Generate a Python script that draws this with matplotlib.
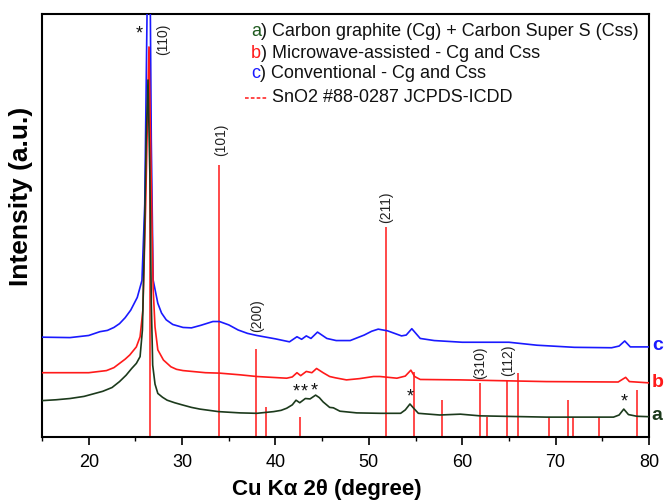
import matplotlib
matplotlib.use("Agg")
import matplotlib.pyplot as plt
from matplotlib.ticker import MultipleLocator
from matplotlib.lines import Line2D

plt.rcParams['font.family'] = ['Liberation Sans', 'DejaVu Sans']

# ---- data (arbitrary intensity units 0..100) ----
a_x = [15, 16.5, 18, 19.5, 20.5, 21.5, 22.5, 23.3, 24.0, 24.6, 25.1, 25.5, 25.75, 25.95, 26.15,
       26.35, 26.55, 26.7, 26.85, 27.1, 27.4, 27.9, 28.4, 29.2, 30.0, 31.0, 31.9, 33.9, 36.2,
       38.0, 39.8, 40.6, 41.2, 41.8, 42.2, 42.6, 43.2, 43.7, 44.3, 44.7, 45.1, 45.8, 46.2, 46.9,
       48.7, 51.2, 53.4, 53.9, 54.4, 54.8, 55.3, 57.6, 59.8, 61.9, 69.0, 76.2, 76.8, 77.3,
       77.8, 78.7, 80]
a_y = [8.6, 8.8, 9.1, 9.6, 10.2, 10.8, 11.7, 13.1, 14.6, 16.2, 17.4, 19.0, 25.3, 45, 70,
       84.4, 62, 32, 17, 12.5, 10.3, 9.4, 8.7, 8.1, 7.6, 7.0, 6.6, 6.0, 5.7,
       5.6, 6.0, 6.3, 6.8, 7.6, 8.7, 8.1, 9.1, 9.0, 9.9, 9.3, 8.3, 7.0, 6.9, 6.1,
       5.7, 5.6, 5.6, 6.4, 7.8, 6.8, 5.6, 5.2, 5.4, 5.0, 4.7, 4.7, 5.2, 6.6,
       5.3, 4.9, 4.8]

b_x = [15, 20, 21.9, 22.7, 23.3, 23.9, 24.4, 25.1, 25.5, 25.8, 26.1, 26.45, 26.7, 26.9, 27.1,
       27.4, 28.0, 28.8, 29.4, 30.1, 32.5, 34.0, 36.2, 38.0, 41.2, 41.8, 42.3, 42.7, 43.3, 43.9,
       44.4, 45.1, 45.8, 46.4, 47.6, 49.0, 50.5, 51.2, 53.0, 53.9, 54.5, 54.9, 55.5, 59.8,
       69.0, 76.7, 77.5, 77.9, 80]
b_y = [15.2, 15.2, 15.7, 16.4, 17.4, 18.4, 19.4, 21.3, 23.7, 30, 55, 92.2, 60, 35, 26,
       20.6, 18.2, 16.6, 16.0, 15.7, 15.2, 15.1, 14.7, 14.3, 13.9, 14.2, 15.2, 14.5, 15.5, 15.2,
       16.2, 15.2, 14.3, 14.0, 13.5, 13.8, 14.3, 14.3, 13.9, 14.4, 15.8, 14.3, 13.6, 13.5,
       13.1, 13.0, 14.1, 13.1, 12.8]

c_x = [15, 18, 20, 21.2, 22, 22.7, 23.3, 23.9, 24.5, 25.2, 25.7, 26.0, 26.3, 26.5, 26.7,
       26.9, 27.4, 27.8, 28.3, 29.0, 30.1, 31.0, 32.0, 33.3, 34.0, 35.0, 36.0, 37.0, 38.0, 40.0,
       41.5, 42.3, 42.8, 43.3, 43.8, 44.5, 45.5, 46.5, 48.0, 49.5, 50.3, 51.0, 52.0, 53.5, 54.0,
       54.6, 55.5, 57.0, 60.0, 65.0, 68.0, 72.0, 76.0, 76.8, 77.4, 78.0, 80]
c_y = [23.6, 23.5, 24.0, 24.9, 25.2, 25.9, 26.8, 28.2, 30.0, 33.0, 37.0, 55, 110, 130, 70,
       37.1, 31.6, 29.3, 27.7, 26.6, 25.9, 25.8, 26.4, 27.3, 27.3, 26.5, 25.3, 24.5, 24.0, 23.2,
       22.5, 23.7, 23.1, 23.9, 23.3, 24.8, 23.3, 22.8, 22.8, 24.1, 25.0, 25.5, 25.1, 23.9, 24.1,
       25.6, 23.3, 22.8, 22.4, 22.4, 21.7, 21.2, 21.1, 21.5, 22.7, 21.3, 21.3]

ref_pos = [26.6, 33.9, 37.9, 38.95, 42.6, 51.8, 54.8, 57.8, 61.9, 62.6, 64.75, 65.95,
           69.3, 71.35, 71.85, 74.6, 78.75]
ref_h = [92.2, 64.3, 20.7, 7.0, 4.7, 49.7, 15.4, 8.7, 12.7, 4.7, 13.5, 15.2,
         4.7, 8.7, 4.7, 4.7, 11.1]

hkl_labels = ['(110)', '(101)', '(200)', '(211)', '(310)', '(112)']
hkl_x = [28.0, 34.2, 38.0, 51.9, 61.9, 64.9]
hkl_y = [93.9, 70.2, 28.8, 54.4, 17.5, 18.2]

star_x = [25.4, 42.2, 43.1, 44.2, 54.4, 77.3]
star_y = [95.3, 10.7, 10.7, 10.9, 9.5, 8.3]

legend_letters = ['a', 'b', 'c']
legend_texts = [') Carbon graphite (Cg) + Carbon Super S (Css)',
                ') Microwave-assisted - Cg and Css',
                ') Conventional - Cg and Css']
ref_label = 'SnO2 #88-0287 JCPDS-ICDD'

col_a = '#1c3a1c'
col_a_txt = '#1f5a1f'
col_b = '#ff1a1a'
col_c = '#1a1aff'
col_ref = '#ff2a2a'

fig = plt.figure(figsize=(6.64, 5.00), dpi=100)
ax = fig.add_axes([0.0633, 0.126, 0.9141, 0.846])

ax.vlines(ref_pos, 0, ref_h, colors=col_ref, lw=1.2, zorder=2)
ax.plot(c_x, c_y, color=col_c, lw=1.2, zorder=3)
ax.plot(b_x, b_y, color=col_b, lw=1.2, zorder=3)
ax.plot(a_x, a_y, color=col_a, lw=1.2, zorder=3)

ax.set_xlim(15, 80)
ax.set_ylim(0, 100)
ax.xaxis.set_major_locator(MultipleLocator(10))
ax.xaxis.set_minor_locator(MultipleLocator(5))
ax.tick_params(axis='x', which='major', direction='out', length=6, width=1.2, labelsize=13, pad=6)
ax.tick_params(axis='x', which='minor', direction='out', length=3, width=1.0)
ax.set_yticks([])
for s in ax.spines.values():
    s.set_linewidth(1.5)

ax.set_xlabel('Cu Kα 2θ (degree)', fontsize=16, fontweight='bold')
ax.xaxis.set_label_coords(0.47, -0.123)
ax.xaxis.label.set_va('center')
ax.set_ylabel('Intensity (a.u.)', fontsize=19, fontweight='bold')
ax.yaxis.set_label_coords(-0.034, 0.57)
ax.yaxis.label.set_va('center')

for lab, x, y in zip(hkl_labels, hkl_x, hkl_y):
    ax.text(x, y, lab, rotation=90, ha='center', va='center', fontsize=10, color='#222222')
for x, y in zip(star_x, star_y):
    ax.text(x, y, '*', ha='center', va='center', fontsize=13, color='#111111')

# legend-like text block (coloured letter + black text)
fig.canvas.draw()
renderer = fig.canvas.get_renderer()
leg_y = [1 - 32 / 500, 1 - 53 / 500, 1 - 74 / 500]
letter_cols = [col_a_txt, col_b, col_c]
x0 = 251 / 664
for letter, txt, ly, lc in zip(legend_letters, legend_texts, leg_y, letter_cols):
    t = fig.text(x0, ly, letter, color=lc, fontsize=13, va='center', ha='left')
    bb = t.get_window_extent(renderer)
    fig.text(bb.x1 / fig.bbox.width, ly, txt, color='#111111', fontsize=13, va='center', ha='left')
fig.add_artist(Line2D([245 / 664, 268 / 664], [1 - 98 / 500, 1 - 98 / 500], color=col_ref,
                      lw=1.2, linestyle=(0, (2.2, 1.3)), transform=fig.transFigure))
fig.text(272 / 664, 1 - 98 / 500, ref_label, color='#111111', fontsize=13, va='center', ha='left')

# series letters on the right
for letter, y, col in zip(['c', 'b', 'a'], [21.7, 12.8, 5.2], [col_c, col_b, col_a]):
    ax.text(80.3, y, letter, color=col, fontsize=14, fontweight='bold', va='center', ha='left',
            clip_on=False)

fig.savefig('out.png', dpi=100)
